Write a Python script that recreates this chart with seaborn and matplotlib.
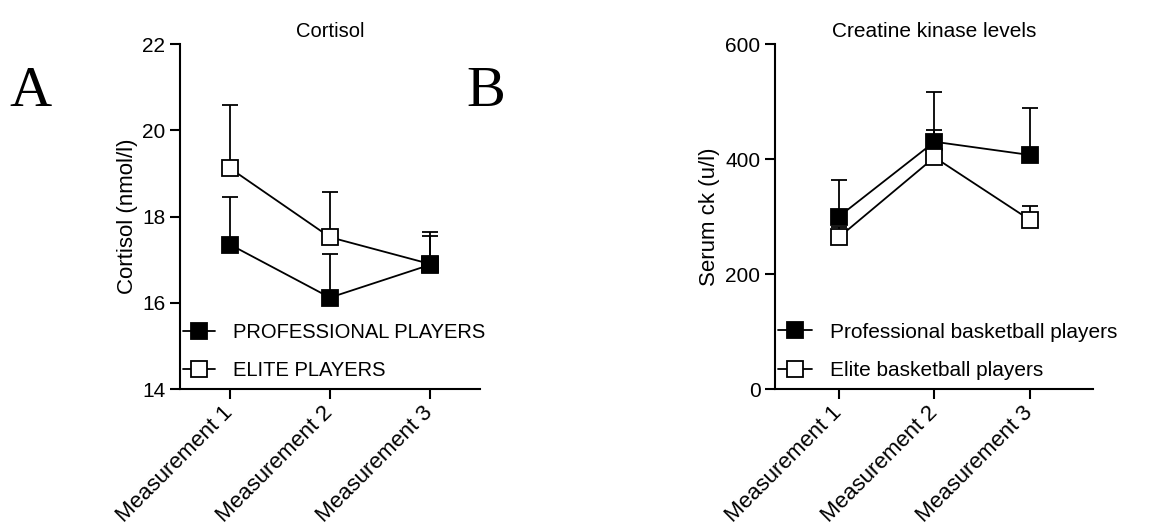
import numpy as np
import pandas as pd
import matplotlib
matplotlib.use("Agg")
import matplotlib.pyplot as plt
import seaborn as sns

# values (mean and upper SD)
measurements = ['Measurement 1', 'Measurement 2', 'Measurement 3']

cortisol_pro = [17.35, 16.12, 16.88]
cortisol_pro_sd = [1.10, 1.00, 0.67]
cortisol_elite = [19.12, 17.52, 16.90]
cortisol_elite_sd = [1.46, 1.06, 0.75]

ck_pro = [300, 430, 407]
ck_pro_sd = [64, 87, 81]
ck_elite = [264, 403, 294]
ck_elite_sd = [18, 47, 24]

sns.set_style("ticks")
plt.rcParams['font.family'] = ['Liberation Sans', 'DejaVu Sans']
plt.rcParams['text.color'] = 'black'
plt.rcParams['axes.labelcolor'] = 'black'
plt.rcParams['xtick.color'] = 'black'
plt.rcParams['ytick.color'] = 'black'

fig = plt.figure(figsize=(11.67, 5.31), dpi=100)
ax1 = fig.add_axes([0.1542, 0.2674, 0.2571, 0.6497])
ax2 = fig.add_axes([0.6641, 0.2674, 0.2725, 0.6497])


def draw_series(ax, values, sd, face, label):
    x = np.arange(len(values))
    df = pd.DataFrame({'x': x, 'y': values})
    ax.errorbar(x, values, yerr=[np.zeros(len(sd)), sd], fmt='none',
                ecolor='black', elinewidth=1.3, capsize=6, capthick=1.3)
    sns.lineplot(data=df, x='x', y='y', ax=ax, color='black', linewidth=1.3,
                 marker='s', markersize=11, markerfacecolor=face,
                 markeredgecolor='black', markeredgewidth=1.3, label=label)


def style_axes(ax, title, ylabel, ylim, yticks, xlim, labelpad, legsize, titlesize):
    ax.set_xlim(*xlim)
    ax.set_ylim(*ylim)
    ax.set_yticks(yticks)
    ax.set_xticks(np.arange(len(measurements)))
    ax.set_xticklabels(measurements, rotation=45, ha='right', va='center',
                       rotation_mode='anchor', fontsize=16)
    ax.tick_params(axis='y', labelsize=15)
    ax.tick_params(axis='x', pad=8)
    ax.tick_params(direction='out', length=7, width=1.5, color='black')
    for s in ['left', 'bottom']:
        ax.spines[s].set_linewidth(1.5)
        ax.spines[s].set_color('black')
    sns.despine(ax=ax)
    ax.set_title(title, fontsize=titlesize, pad=5, color='black')
    ax.set_ylabel(ylabel, fontsize=16, labelpad=labelpad)
    ax.set_xlabel('')
    handles, labels = ax.get_legend_handles_labels()
    order = [labels.index(l) for l in sorted(labels, key=lambda t: 0 if t.lower().startswith('pro') else 1)]
    ax.legend([handles[i] for i in order], [labels[i] for i in order],
              loc='lower left', bbox_to_anchor=(0.01, 0.025), frameon=False,
              fontsize=legsize, borderpad=0, borderaxespad=0,
              handlelength=1.6, handletextpad=0.9, labelspacing=0.95)


# Panel A: cortisol
draw_series(ax1, cortisol_elite, cortisol_elite_sd, 'white', 'ELITE PLAYERS')
draw_series(ax1, cortisol_pro, cortisol_pro_sd, 'black', 'PROFESSIONAL PLAYERS')
style_axes(ax1, 'Cortisol', 'Cortisol (nmol/l)', (14, 22), [14, 16, 18, 20, 22],
           (-0.5, 2.5), 3, 14.5, 14.5)

# Panel B: creatine kinase
draw_series(ax2, ck_pro, ck_pro_sd, 'black', 'Professional basketball players')
draw_series(ax2, ck_elite, ck_elite_sd, 'white', 'Elite basketball players')
style_axes(ax2, 'Creatine kinase levels', 'Serum ck (u/l)', (0, 600), [0, 200, 400, 600],
           (-0.67, 2.66), 4, 15, 15)

fig.text(0.008, 0.80, 'A', fontsize=42, family='Liberation Serif', va='baseline')
fig.text(0.400, 0.80, 'B', fontsize=42, family='Liberation Serif', va='baseline')

fig.savefig('out.png', dpi=100)
